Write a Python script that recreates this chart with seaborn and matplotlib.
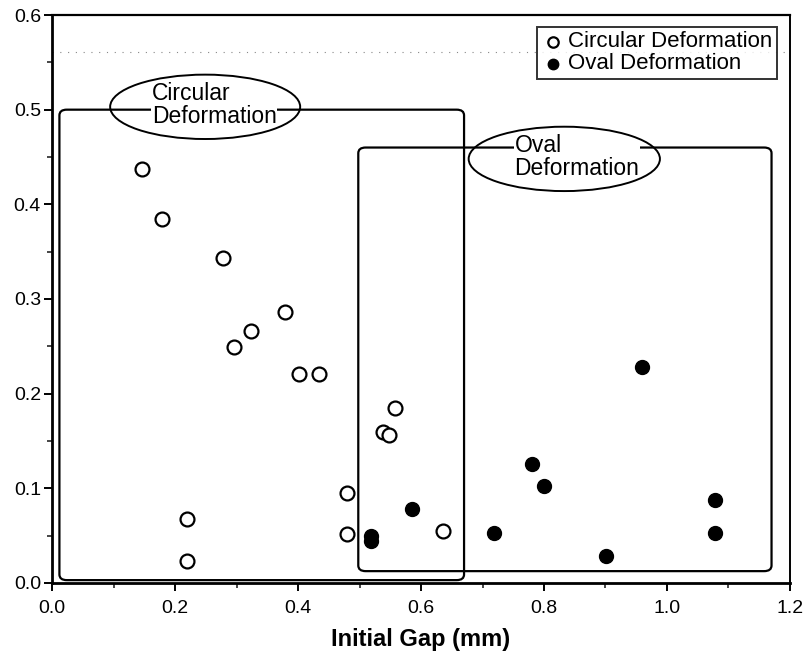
import matplotlib
matplotlib.use("Agg")
import matplotlib.pyplot as plt
from matplotlib.patches import FancyBboxPatch, Ellipse
from matplotlib.ticker import MultipleLocator, FormatStrFormatter
import seaborn as sns
import pandas as pd

sns.set_theme(style="ticks")
plt.rcParams["font.family"] = ["Liberation Sans", "DejaVu Sans"]
plt.rcParams["text.color"] = "black"
plt.rcParams["axes.labelcolor"] = "black"

# Measured points: initial gap (mm) vs. deformation
circular_gap = [0.146, 0.179, 0.278, 0.296, 0.323, 0.379, 0.402, 0.434,
                0.480, 0.538, 0.548, 0.558, 0.219, 0.219, 0.479, 0.635]
circular_val = [0.437, 0.385, 0.343, 0.249, 0.266, 0.286, 0.221, 0.221,
                0.095, 0.159, 0.156, 0.185, 0.068, 0.023, 0.052, 0.055]

oval_gap = [0.518, 0.518, 0.586, 0.718, 0.780, 0.800, 0.901, 0.959, 1.078, 1.078]
oval_val = [0.050, 0.044, 0.078, 0.053, 0.126, 0.102, 0.029, 0.228, 0.088, 0.053]

series_labels = ["Circular Deformation", "Oval Deformation"]
x_label = "Initial Gap (mm)"

circ = pd.DataFrame({"gap": circular_gap, "val": circular_val})
oval = pd.DataFrame({"gap": oval_gap, "val": oval_val})

fig = plt.figure(figsize=(8.08, 6.70), dpi=100)
ax = fig.add_axes([0.0644, 0.1299, 0.9133, 0.8477])

# Faint dotted line near the top of the plot area
ax.axhline(0.561, color="#888888", lw=0.8, ls=(0, (1, 6)), zorder=0)

# Grouping boxes
circ_box = FancyBboxPatch((0.012, 0.003), 0.658, 0.497,
                          boxstyle="round,pad=0,rounding_size=0.012",
                          mutation_aspect=0.5,
                          fc="none", ec="black", lw=1.6, zorder=1)
oval_box = FancyBboxPatch((0.498, 0.0125), 0.672, 0.4475,
                          boxstyle="round,pad=0,rounding_size=0.012",
                          mutation_aspect=0.5,
                          fc="none", ec="black", lw=1.6, zorder=1)
ax.add_patch(circ_box)
ax.add_patch(oval_box)

# Labelled ellipses (outline drawn above the text backgrounds)
ax.add_patch(Ellipse((0.249, 0.503), 0.309, 0.068, fc="none", ec="black", lw=1.4, zorder=3.5))
ax.add_patch(Ellipse((0.833, 0.448), 0.311, 0.068, fc="none", ec="black", lw=1.4, zorder=3.5))
ax.text(0.162, 0.505, "Circular\nDeformation", ha="left", va="center",
        fontsize=16.5, linespacing=1.0, zorder=3,
        bbox=dict(fc="white", ec="none", pad=0.3))
ax.text(0.752, 0.450, "Oval\nDeformation", ha="left", va="center",
        fontsize=16.5, linespacing=0.95, zorder=3,
        bbox=dict(fc="white", ec="none", pad=0.3))

sns.scatterplot(data=circ, x="gap", y="val", ax=ax, s=100, marker="o",
                facecolor="white", edgecolor="black", linewidth=1.6,
                label=series_labels[0], zorder=4)
sns.scatterplot(data=oval, x="gap", y="val", ax=ax, s=100, marker="o",
                color="black", edgecolor="black", linewidth=1.0,
                label=series_labels[1], zorder=4)

ax.set_xlim(0, 1.2)
ax.set_ylim(0, 0.6)
ax.xaxis.set_major_locator(MultipleLocator(0.2))
ax.xaxis.set_minor_locator(MultipleLocator(0.1))
ax.yaxis.set_major_locator(MultipleLocator(0.1))
ax.yaxis.set_minor_locator(MultipleLocator(0.05))
ax.xaxis.set_major_formatter(FormatStrFormatter("%.1f"))
ax.yaxis.set_major_formatter(FormatStrFormatter("%.1f"))
ax.tick_params(which="major", direction="out", length=6, width=1.4,
               labelsize=14, colors="black")
ax.tick_params(which="minor", direction="out", length=3.5, width=1.2)
ax.tick_params(axis="x", which="major", pad=6)
ax.tick_params(axis="y", which="major", pad=2)

for side in ["left", "bottom", "top", "right"]:
    ax.spines[side].set_visible(True)
    ax.spines[side].set_color("black")
ax.spines["left"].set_linewidth(2.0)
ax.spines["bottom"].set_linewidth(2.0)
ax.spines["top"].set_linewidth(1.6)
ax.spines["right"].set_linewidth(1.4)

ax.set_xlabel(x_label, fontsize=17, fontweight="bold", labelpad=8)
ax.set_ylabel("")

leg = ax.legend(loc="upper right", bbox_to_anchor=(0.9825, 0.979),
                frameon=True, fancybox=False, fontsize=16,
                handletextpad=0.2, borderpad=0.2, labelspacing=0.05,
                handlelength=1.0, markerscale=0.75, borderaxespad=0)
leg.get_frame().set_edgecolor("black")
leg.get_frame().set_linewidth(1.4)

fig.savefig("out.png", dpi=100)
